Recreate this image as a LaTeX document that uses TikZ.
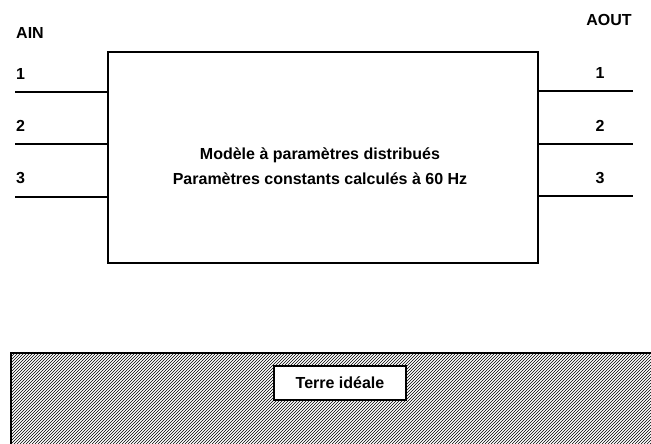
\documentclass[tikz,border=0pt]{standalone}
\usepackage{fontspec}
\setmainfont{Liberation Sans}
\begin{document}
\begin{tikzpicture}[x=1pt,y=-1pt,
  wire/.style={line width=1.8pt},
  lbl/.style={font=\fontsize{16}{18}\selectfont\bfseries, inner sep=0pt},
  mainbox/.style={draw, line width=1.8pt},
  hatch/.style={line width=0.6pt}]
\useasboundingbox (0,0) rectangle (651,444);
% main block
\node[mainbox, minimum width=430pt, minimum height=211pt, inner sep=0pt] (blk) at (323,157.5) {};
\node[lbl, align=center] (txt) at (320,166) {Modèle à paramètres distribués\\[7pt]Paramètres constants calculés à 60 Hz};
% input side
\node[lbl, anchor=west] (ain) at (16,33) {AIN};
\node[lbl, anchor=west] (i1) at (16,74) {1};
\node[lbl, anchor=west] (i2) at (16,126) {2};
\node[lbl, anchor=west] (i3) at (16,178) {3};
\coordinate (a1) at (15,92);
\coordinate (a2) at (15,144);
\coordinate (a3) at (15,197);
\draw[wire] (a1) -- (a1 -| blk.west);
\draw[wire] (a2) -- (a2 -| blk.west);
\draw[wire] (a3) -- (a3 -| blk.west);
% output side
\node[lbl] (aout) at (609,20) {AOUT};
\node[lbl] (o1) at (600,73) {1};
\node[lbl] (o2) at (600,126) {2};
\node[lbl] (o3) at (600,178) {3};
\coordinate (b1) at (633,91);
\coordinate (b2) at (633,144);
\coordinate (b3) at (633,196);
\draw[wire] (b1 -| blk.east) -- (b1);
\draw[wire] (b2 -| blk.east) -- (b2);
\draw[wire] (b3 -| blk.east) -- (b3);
% ground
\begin{scope}
\clip (11,353) rectangle (651,444);
\foreach \k in {-100,-97,...,760} {
  \draw[hatch] (\k,444) -- (\k+91,353);
}
\end{scope}
\draw[line width=1.4pt] (11,444) -- (11,353) -- (651,353);
\node[draw, line width=1.6pt, fill=white, minimum width=132pt, minimum height=34pt, lbl] (terre) at (340,383) {Terre idéale};
\end{tikzpicture}
\end{document}
